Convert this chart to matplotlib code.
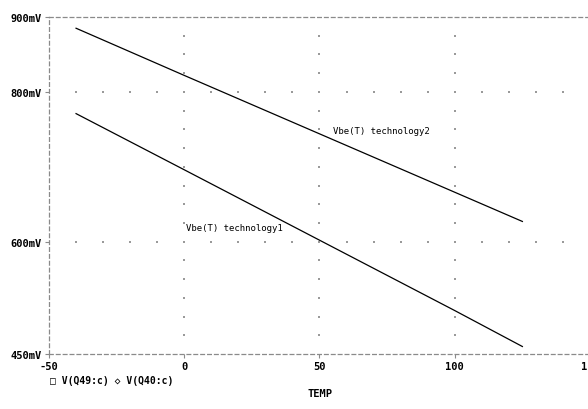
import matplotlib.pyplot as plt
import numpy as np

# === data ===
temp = [-40, 0, 50, 100, 125]
vbe_tech1 = [771, 696, 602, 508, 460]   # mV
vbe_tech2 = [885, 822, 744, 666, 627]   # mV

y_ticks = [450, 600, 800, 900]
y_tick_labels = ['450mV', '600mV', '800mV', '900mV']
x_ticks = [-50, 0, 50, 100, 150]

plt.rcParams['font.family'] = 'DejaVu Sans Mono'

fig = plt.figure(figsize=(5.88, 4.10), dpi=100)
ax = fig.add_axes([49 / 588, 1 - 355 / 410, 541 / 588, 337 / 410])

ax.plot(temp, vbe_tech1, color='black', lw=0.9)
ax.plot(temp, vbe_tech2, color='black', lw=0.9)

ax.set_xlim(-50, 150)
ax.set_ylim(450, 900)

# dotted grid (dots only, like the probe window)
gx = np.arange(-40, 150, 10)
for yv in [600, 800]:
    ax.scatter(gx, np.full(len(gx), yv), s=1.0, color='#9a9a9a', marker='s', lw=0)
gy = np.arange(475, 900, 25)
for xv in [0, 50, 100]:
    ax.scatter(np.full(len(gy), xv), gy, s=1.0, color='#9a9a9a', marker='s', lw=0)

# frame
for side in ['left', 'top', 'bottom']:
    ax.spines[side].set_linestyle((0, (3, 2.5)))
    ax.spines[side].set_color('#8a8a8a')
    ax.spines[side].set_linewidth(0.9)
ax.spines['right'].set_visible(False)

ax.set_yticks(y_ticks)
ax.set_yticklabels(y_tick_labels, fontweight='bold', fontsize=7.5)
ax.set_xticks(x_ticks)
ax.set_xticklabels([str(v) for v in x_ticks], fontweight='bold', fontsize=7.5)
ax.tick_params(axis='both', length=3, width=0.8, color='#8a8a8a', pad=2)

ax.text(55, 748, 'Vbe(T) technology2', fontsize=6.5, va='center', ha='left')
ax.text(0.5, 619, 'Vbe(T) technology1', fontsize=6.5, va='center', ha='left')

fig.text(50 / 588, 1 - 381 / 410, '\u25a1 V(Q49:c) \u25c7 V(Q40:c)', fontsize=7,
         fontweight='bold', va='center', ha='left')
fig.text(320 / 588, 1 - 394 / 410, 'TEMP', fontsize=7.5, fontweight='bold',
         va='center', ha='center')

fig.savefig('out.png', dpi=100)
